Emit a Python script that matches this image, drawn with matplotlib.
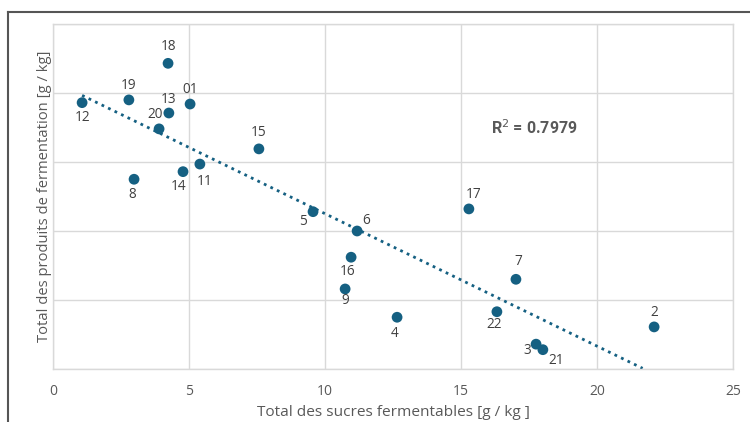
import numpy as np
import matplotlib
matplotlib.use("Agg")
import matplotlib.pyplot as plt
from matplotlib.lines import Line2D

plt.rcParams['font.family'] = ['Open Sans', 'DejaVu Sans']

# Data (y in arbitrary units, no y tick labels in the original)
labels = ["18", "19", "12", "13", "01", "20", "15", "11", "14", "8", "5", "6",
          "17", "16", "9", "7", "4", "22", "3", "21", "2"]
sucres = [4.23, 2.79, 1.07, 4.26, 5.04, 3.90, 7.57, 5.40, 4.78, 2.98, 9.56, 11.18,
          15.29, 10.96, 10.74, 17.02, 12.65, 16.32, 17.76, 18.01, 22.10]
produits = [4.43, 3.90, 3.86, 3.71, 3.84, 3.48, 3.19, 2.97, 2.86, 2.75, 2.28, 2.00,
            2.32, 1.62, 1.16, 1.30, 0.75, 0.83, 0.36, 0.28, 0.61]
r2_text = "R$^{2}$ = 0.7979"

# label offsets in pixels (dx, dy upward)
offsets = {"18": (0, 17), "19": (0, 14), "12": (0, -15), "13": (0, 14), "01": (0, 15),
           "20": (-4, 14), "15": (0, 16), "11": (5, -17), "14": (-4, -15), "8": (-2, -15),
           "5": (-10, -10), "6": (9, 10), "17": (5, 14), "16": (-4, -14), "9": (0, -12),
           "7": (2, 18), "4": (-2, -16), "22": (-3, -13), "3": (-9, -6), "21": (13, -11),
           "2": (0, 14)}

color = "#156082"
grid_c = "#d9d9d9"
text_c = "#595959"

fig = plt.figure(figsize=(7.5, 4.22), dpi=100)
ax = fig.add_axes([53/750, 1-369/422, (733-53)/750, (369-24)/422])

ax.set_xlim(0, 25)
ax.set_ylim(0, 5)
ax.set_xticks([0, 5, 10, 15, 20, 25])
ax.set_yticks([0, 1, 2, 3, 4, 5])
ax.set_yticklabels([])
ax.grid(True, color=grid_c, linewidth=1)
ax.set_axisbelow(True)
for s in ax.spines.values():
    s.set_color(grid_c)
    s.set_linewidth(1)
ax.tick_params(axis='x', length=0, colors=text_c, labelsize=10, pad=11)
ax.tick_params(axis='y', length=0, pad=0)

x = np.array(sucres)
y = np.array(produits)
coef = np.polyfit(x, y, 1)
xs = np.linspace(x.min(), x.max(), 200)
ys = np.polyval(coef, xs)
m = ys >= 0
ax.plot(xs[m], ys[m], linestyle=(0, (1, 1.6)), color=color, linewidth=2.0, zorder=2)

ax.scatter(x, y, s=60, color=color, zorder=3, edgecolors='none')
for lab, xi, yi in zip(labels, sucres, produits):
    dx, dy = offsets[lab]
    ax.annotate(lab, (xi, yi), xytext=(dx*0.72, dy*0.72), textcoords='offset points',
                ha='center', va='center', fontsize=9.8, color="#404040")

ax.text(17.7, 3.5, r2_text, ha='center', va='center', fontsize=11.5,
        fontweight='bold', color=text_c, family=['Roboto', 'DejaVu Sans'])

ax.set_xlabel("Total des sucres fermentables [g / kg ]", fontsize=11.1, color=text_c, labelpad=4)
ax.set_ylabel("Total des produits de fermentation [g / kg]", fontsize=10.6, color=text_c, labelpad=1)

# outer frame lines (top and left)
fig.add_artist(Line2D([8/750, 1], [1-12/422, 1-12/422], color="#555555", linewidth=1.5, transform=fig.transFigure))
fig.add_artist(Line2D([8/750, 8/750], [0, 1-12/422], color="#555555", linewidth=1.5, transform=fig.transFigure))

fig.savefig("out.png", dpi=100)
